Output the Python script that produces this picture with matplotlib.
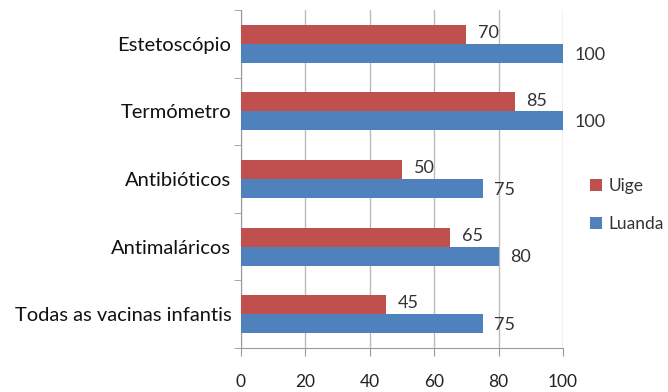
import matplotlib
matplotlib.use("Agg")
import matplotlib.pyplot as plt
import numpy as np

categories = ["Todas as vacinas infantis", "Antimaláricos", "Antibióticos", "Termómetro", "Estetoscópio"]
uige = [45, 65, 50, 85, 70]
luanda = [75, 80, 75, 100, 100]
xticks = [0, 20, 40, 60, 80, 100]

plt.rcParams['font.family'] = ['Lato', 'DejaVu Sans']
fig = plt.figure(figsize=(6.68, 3.92), dpi=100)
ax = fig.add_axes([241 / 668, 1 - 348 / 392, (563 - 241) / 668, (348 - 10) / 392])

red = "#C0504D"
blue = "#4F81BD"
y = np.arange(len(categories))
h = 0.28
bl = ax.barh(y - h / 2, luanda, height=h, color=blue, label="Luanda", zorder=3)
br = ax.barh(y + h / 2, uige, height=h, color=red, label="Uige", zorder=3)

for rect, v in zip(br, uige):
    ax.text(v + 3.6, rect.get_y() + rect.get_height() / 2 + 0.02, str(v), va="center", ha="left",
            fontsize=13, color="#333333")
for rect, v in zip(bl, luanda):
    ax.text(v + 3.6, rect.get_y() + rect.get_height() / 2 - 0.02, str(v), va="center", ha="left",
            fontsize=13, color="#333333", clip_on=False)

ax.set_xlim(0, 100)
ax.set_ylim(-0.5, len(categories) - 0.5)
ax.set_xticks(xticks)
ax.set_xticklabels([str(t) for t in xticks], fontsize=12.5, color="#222222")
ax.set_yticks(y)
ax.set_yticklabels(categories, fontsize=14.5, color="#111111")
ax.set_yticks(np.arange(-0.5, len(categories), 1), minor=True)
ax.tick_params(axis="y", which="major", length=0, pad=7)
ax.tick_params(axis="y", which="minor", length=5, color="#999999")
ax.tick_params(axis="x", which="major", length=6, color="#999999", pad=13)
ax.grid(axis="x", color="#BBBBBB", linewidth=1, zorder=0)
for s in ["top", "right"]:
    ax.spines[s].set_visible(False)
for s in ["left", "bottom"]:
    ax.spines[s].set_color("#999999")

handles = [br, bl]
leg = fig.legend(handles, ["Uige", "Luanda"], loc="center left", bbox_to_anchor=(574 / 668, 1 - 205 / 392),
                 frameon=False, fontsize=12.5, handlelength=0.7, handleheight=0.7, handletextpad=0.4,
                 labelspacing=1.3)
for t in leg.get_texts():
    t.set_color("#333333")

fig.savefig("out.png", dpi=100)
